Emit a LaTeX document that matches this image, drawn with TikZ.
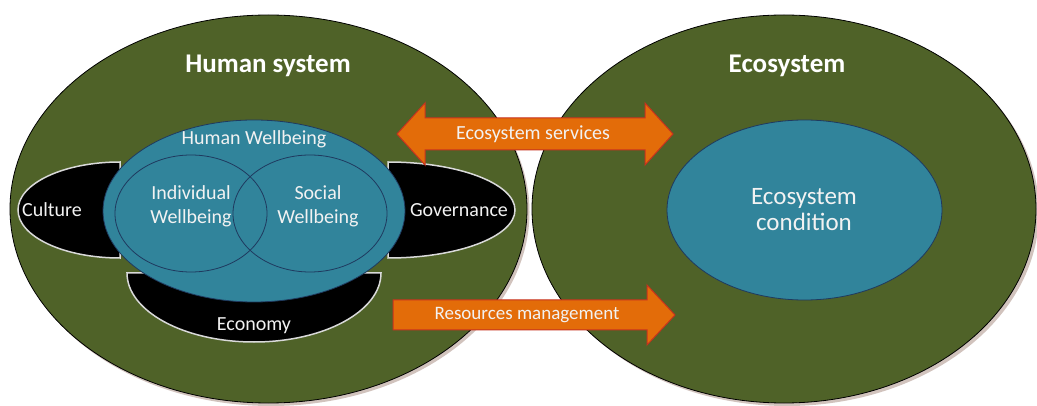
\documentclass[tikz,border=0pt]{standalone}
\usepackage{fontspec}
\setmainfont{Carlito}
\usetikzlibrary{shapes.geometric}
\definecolor{olivegreen}{HTML}{4F6228}
\definecolor{tealblue}{HTML}{31849B}
\definecolor{arroworange}{HTML}{E36C09}
\definecolor{arrowedge}{HTML}{C8321E}
\definecolor{navyline}{HTML}{1F3A5F}
\definecolor{lightedge}{HTML}{D9D9D9}
\definecolor{lighttext}{HTML}{F2F2F2}
\definecolor{shadowcol}{HTML}{9A7A6E}
\tikzset{
  bigoval/.style={ellipse, draw=black, line width=0.8pt, fill=olivegreen, inner sep=0pt},
  blueoval/.style={ellipse, draw=navyline, line width=0.8pt, fill=tealblue, inner sep=0pt},
  vennoval/.style={ellipse, draw=navyline, line width=0.8pt, inner sep=0pt},
  blackpart/.style={fill=black, draw=lightedge, line width=1.5pt},
  flowarrow/.style={fill=arroworange, draw=arrowedge, line width=1pt, line join=miter},
  titletext/.style={text=white, font=\bfseries\fontsize{27}{30}\selectfont},
  labeltext/.style={text=lighttext, font=\fontsize{20}{24}\selectfont, align=center, inner sep=0pt},
}
\begin{document}
\begin{tikzpicture}[x=1pt,y=-1pt]
\useasboundingbox (0,0) rectangle (1037,406);
\fill[white] (0,0) rectangle (1037,406);
% soft shadows
\fill[shadowcol, opacity=0.45] (271,212) ellipse [x radius=258.5pt, y radius=194pt];
\fill[shadowcol, opacity=0.45] (787,212) ellipse [x radius=252pt, y radius=194pt];
% outer ovals
\node[bigoval, minimum width=517pt, minimum height=388pt] (human) at (268.5,209) {};
\node[bigoval, minimum width=504pt, minimum height=388pt] (eco) at (784,209) {};
% black parts
\path[blackpart] (120,162) arc [start angle=90, end angle=270, x radius=102pt, y radius=48pt] -- cycle;
\path[blackpart] (388,162) arc [start angle=90, end angle=-90, x radius=127pt, y radius=48pt] -- cycle;
\path[blackpart] (127,273) arc [start angle=180, end angle=360, x radius=127pt, y radius=69pt] -- cycle;
% human wellbeing
\node[blueoval, minimum width=302pt, minimum height=182pt] (hwb) at (254,211) {};
\node[vennoval, minimum width=152pt, minimum height=117pt] (indiv) at (191,213.5) {};
\node[vennoval, minimum width=154pt, minimum height=117pt] (social) at (310,213.5) {};
% ecosystem condition
\node[blueoval, minimum width=275pt, minimum height=180pt] (cond) at (804.5,210) {};
% titles
\node[titletext] (humantitle) at (268,66) {Human system};
\node[titletext] (ecotitle) at (787,66) {Ecosystem};
% labels
\node[labeltext] (hwblabel) at (254,139) {Human Wellbeing};
\node[labeltext] (indivlabel) at (191,206) {Individual\\Wellbeing};
\node[labeltext] (sociallabel) at (318,206) {Social\\Wellbeing};
\node[labeltext] (culture) at (52,210) {Culture};
\node[labeltext] (governance) at (459,210) {Governance};
\node[labeltext] (economy) at (254,326) {Economy};
\node[labeltext, font=\fontsize{25}{26}\selectfont] (condlabel) at (804,210) {Ecosystem\\condition};
% arrows
\path[flowarrow] (397,134) -- (425,103) -- (425,118) -- (645,118) -- (645,103) -- (673,134)
  -- (645,165) -- (645,150) -- (425,150) -- (425,165) -- cycle;
\path[flowarrow] (393,300) -- (647,300) -- (647,285) -- (675,315) -- (647,345) -- (647,330) -- (393,330) -- cycle;
\node[labeltext] (serv) at (533,134) {Ecosystem services};
\node[labeltext, font=\fontsize{19}{22}\selectfont] (resm) at (527,315) {Resources management};
\end{tikzpicture}
\end{document}
